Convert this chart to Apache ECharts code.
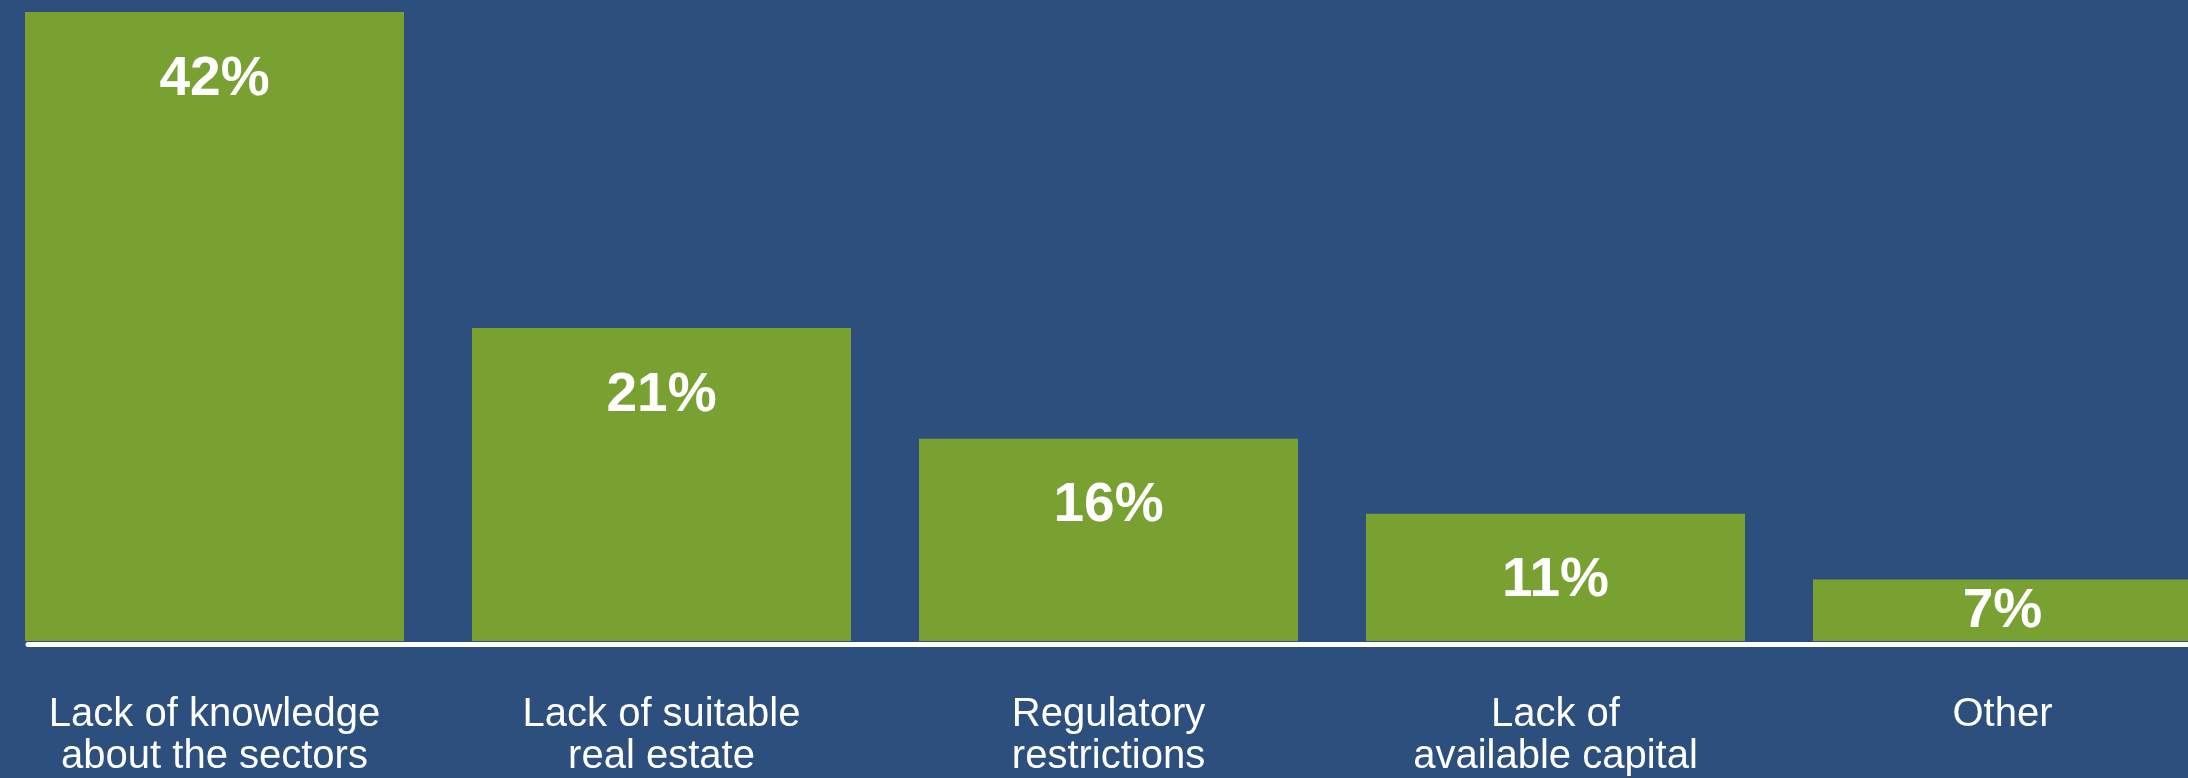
<!DOCTYPE html>
<html>
<head>
<meta charset="utf-8">
<script src="https://cdn.jsdelivr.net/npm/echarts@6/dist/echarts.min.js"></script>
<style>
html,body{margin:0;padding:0;background:#2c4f7d;overflow:hidden;}
#chart{width:2250px;height:778px;margin-left:-9px;}
</style>
</head>
<body>
<div id="chart"></div>
<script>
// Categories (x axis)
var categories = [
  'Lack of knowledge\nabout the sectors',
  'Lack of suitable\nreal estate',
  'Regulatory\nrestrictions',
  'Lack of\navailable capital',
  'Other'
];
// Printed share labels (%)
var shareLabels = [42, 21, 16, 11, 7];
// Bar lengths as drawn in the picture (same % units; the original is not drawn to scale)
var barValues = [42, 20.9, 13.5, 8.5, 4.1];

var chart = echarts.init(document.getElementById('chart'), null, {renderer: 'canvas'});

var data = barValues.map(function (v, i) {
  var item = {value: v};
  if (v < 6) {
    item.label = {position: 'inside', offset: [0, 2]};
  }
  return item;
});

chart.setOption({
  backgroundColor: '#2c4f7d',
  animation: false,
  grid: {left: 0, width: 2235, top: 12, bottom: 137, containLabel: false},
  xAxis: {
    type: 'category',
    data: categories,
    axisLine: {show: false},
    axisTick: {show: false},
    axisLabel: {
      color: '#ffffff',
      fontFamily: 'Liberation Sans, Arial, Helvetica, sans-serif',
      fontSize: 40,
      lineHeight: 42,
      margin: 53,
      interval: 0
    }
  },
  yAxis: {
    type: 'value',
    min: 0,
    max: 42,
    show: false,
    splitLine: {show: false}
  },
  series: [{
    type: 'bar',
    data: data,
    barWidth: 379,
    itemStyle: {color: '#78a132'},
    label: {
      show: true,
      position: 'insideTop',
      distance: 40,
      color: '#ffffff',
      fontFamily: 'Liberation Sans, Arial, Helvetica, sans-serif',
      fontWeight: 'bold',
      fontSize: 55,
      formatter: function (p) { return shareLabels[p.dataIndex] + '%'; }
    }
  }],
  graphic: [{
    type: 'line',
    shape: {x1: 37, y1: 644.5, x2: 2250, y2: 644.5},
    style: {stroke: '#ffffff', lineWidth: 5, lineCap: 'round'},
    z: 10
  }]
});
</script>
</body>
</html>
